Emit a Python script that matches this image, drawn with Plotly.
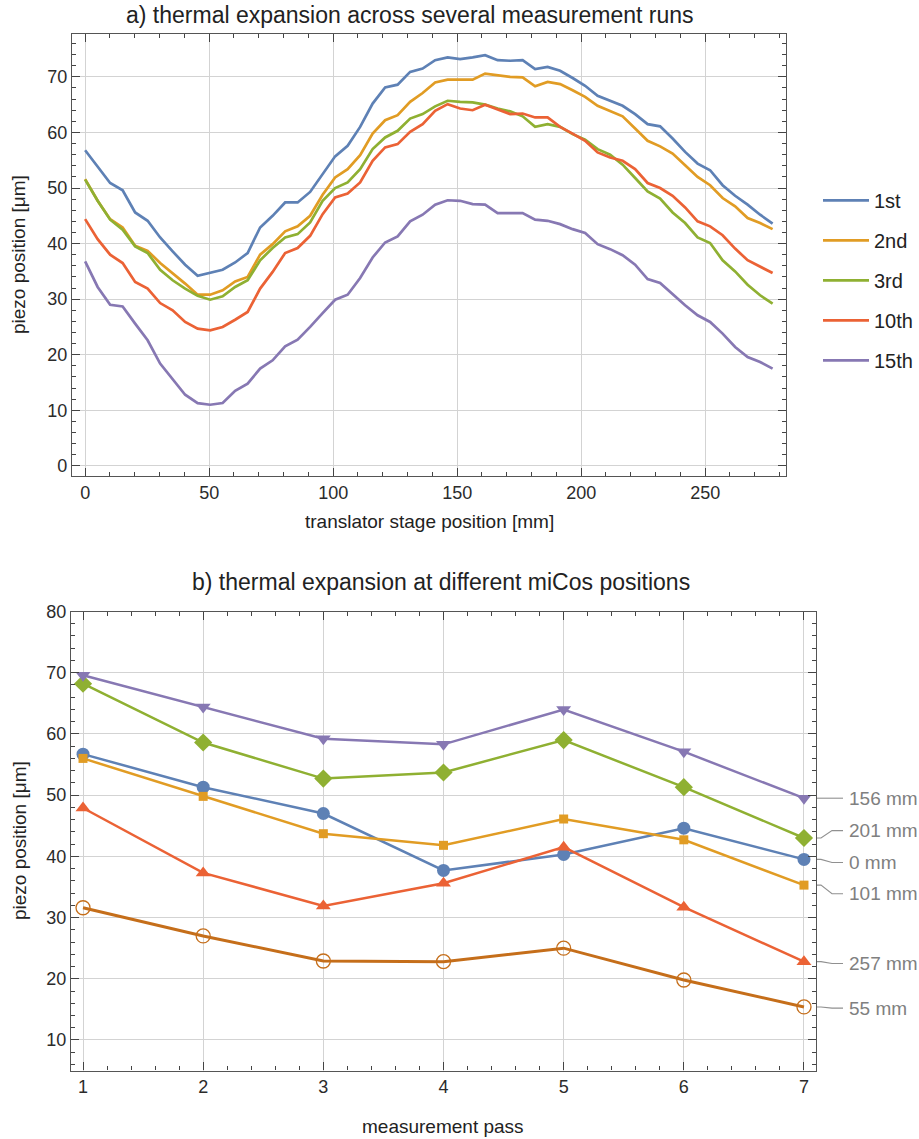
import plotly.graph_objects as go

# ---------------- data: panel a ----------------
stage_mm = [0, 5.04, 10.08, 15.12, 20.16, 25.2, 30.24, 35.28, 40.32, 45.36, 50.4, 55.44,
            60.48, 65.52, 70.56, 75.6, 80.64, 85.68, 90.72, 95.76, 100.8, 105.84, 110.88,
            115.92, 120.96, 126.0, 131.04, 136.08, 141.12, 146.16, 151.2, 156.24, 161.28,
            166.32, 171.36, 176.4, 181.44, 186.48, 191.52, 196.56, 201.6, 206.64, 211.68,
            216.72, 221.76, 226.8, 231.84, 236.88, 241.92, 246.96, 252.0, 257.04, 262.08,
            267.12, 272.16, 277.2]

run_names = ["1st", "2nd", "3rd", "10th", "15th"]

run_1st = [56.8, 53.8, 50.9, 49.6, 45.6, 44.1, 41.1, 38.6, 36.2, 34.2, 34.7, 35.3, 36.6, 38.3,
           42.9, 45.0, 47.4, 47.4, 49.3, 52.5, 55.7, 57.6, 61.0, 65.2, 68.1, 68.6, 70.9, 71.5,
           73.0, 73.5, 73.2, 73.5, 73.9, 73.0, 72.9, 73.0, 71.4, 71.8, 71.1, 69.8, 68.4, 66.6,
           65.7, 64.8, 63.3, 61.5, 61.1, 58.9, 56.5, 54.4, 53.2, 50.5, 48.6, 47.0, 45.2, 43.6]
run_2nd = [51.6, 47.7, 44.4, 42.9, 39.6, 38.7, 36.5, 34.7, 32.8, 30.8, 30.8, 31.6, 33.2, 34.0,
           38.0, 39.9, 42.2, 43.1, 45.0, 48.8, 51.9, 53.4, 55.9, 59.8, 62.2, 63.1, 65.5, 67.1,
           69.0, 69.5, 69.5, 69.5, 70.6, 70.3, 70.0, 69.9, 68.3, 69.1, 68.7, 67.6, 66.4, 64.8,
           63.8, 62.9, 60.7, 58.5, 57.5, 56.2, 54.1, 52.0, 50.5, 48.2, 46.7, 44.6, 43.7, 42.6]
run_3rd = [51.5, 47.7, 44.3, 42.5, 39.5, 38.3, 35.3, 33.4, 31.9, 30.6, 29.9, 30.5, 32.2, 33.4,
           37.0, 39.2, 41.1, 41.7, 43.8, 47.7, 50.0, 51.0, 53.4, 57.0, 59.1, 60.3, 62.5, 63.3,
           64.7, 65.7, 65.5, 65.4, 65.0, 64.3, 63.8, 62.9, 61.0, 61.5, 61.0, 59.7, 58.7, 57.0,
           56.0, 54.2, 51.8, 49.4, 48.1, 45.6, 43.7, 41.1, 40.1, 37.0, 35.0, 32.6, 30.7, 29.2]
run_10th = [44.4, 40.8, 38.0, 36.5, 33.1, 31.9, 29.3, 28.0, 25.9, 24.7, 24.4, 25.0, 26.3, 27.7,
            31.9, 34.9, 38.3, 39.2, 41.4, 45.3, 48.3, 49.0, 51.0, 54.9, 57.3, 57.9, 60.1, 61.5,
            63.9, 65.1, 64.3, 64.0, 65.0, 64.2, 63.3, 63.4, 62.7, 62.7, 61.0, 59.8, 58.5, 56.4,
            55.5, 54.9, 53.4, 50.9, 50.0, 48.6, 46.5, 44.0, 43.1, 41.5, 39.1, 37.0, 35.9, 34.7]
run_15th = [36.8, 32.2, 29.0, 28.7, 25.6, 22.6, 18.4, 15.5, 12.8, 11.3, 11.0, 11.3, 13.5, 14.8,
            17.5, 19.0, 21.5, 22.7, 25.0, 27.5, 29.9, 30.8, 33.8, 37.5, 40.2, 41.3, 44.0, 45.2,
            47.0, 47.8, 47.7, 47.1, 47.0, 45.5, 45.5, 45.5, 44.3, 44.1, 43.5, 42.6, 41.9, 39.9,
            39.0, 37.9, 36.2, 33.6, 32.9, 30.9, 28.9, 27.1, 25.9, 23.8, 21.4, 19.6, 18.7, 17.5]

# ---------------- data: panel b ----------------
passes = [1, 2, 3, 4, 5, 6, 7]
pos_names = ["0 mm", "101 mm", "201 mm", "257 mm", "156 mm", "55 mm"]
pos_0 = [56.7, 51.3, 47.0, 37.7, 40.3, 44.6, 39.5]
pos_101 = [56.0, 49.8, 43.7, 41.8, 46.1, 42.7, 35.3]
pos_201 = [68.2, 58.6, 52.7, 53.7, 59.0, 51.3, 43.0]
pos_257 = [47.9, 37.3, 31.9, 35.6, 41.5, 31.7, 22.8]
pos_156 = [69.6, 64.4, 59.2, 58.3, 64.0, 57.1, 49.5]
pos_55 = [31.6, 27.0, 22.9, 22.8, 25.0, 19.8, 15.4]
label_y = [39.0, 33.9, 44.2, 22.5, 49.5, 15.2]   # where the end labels sit

# ---------------- styling ----------------
COLORS = ["#5E81B5", "#E19C24", "#8FB032", "#EB6235", "#8778B3", "#C56E1A"]
FONT = "Liberation Sans, Arial, sans-serif"
W, H = 919, 1139

fig = go.Figure()

runs = [run_1st, run_2nd, run_3rd, run_10th, run_15th]
for k, (name, ys) in enumerate(zip(run_names, runs)):
    fig.add_trace(go.Scatter(x=stage_mm, y=ys, mode="lines", name=name,
                             line=dict(color=COLORS[k], width=2.7),
                             legendgroup=name, xaxis="x", yaxis="y"))

series_b = [pos_0, pos_101, pos_201, pos_257, pos_156, pos_55]
symbols = ["circle", "square", "diamond", "triangle-up", "triangle-down", "circle-open"]
msizes = [13, 9, 14, 13, 13, 14]
for k, ys in enumerate(series_b):
    mk = dict(symbol=symbols[k], size=msizes[k], color=COLORS[k])
    if symbols[k] == "circle-open":
        mk["line"] = dict(width=1.3, color=COLORS[k])
    fig.add_trace(go.Scatter(x=passes, y=ys, mode="lines+markers", name=pos_names[k],
                             line=dict(color=COLORS[k], width=3.0 if k == 5 else 2.5),
                             marker=mk, showlegend=False, cliponaxis=False,
                             xaxis="x2", yaxis="y2"))

# pixel frames (target pixel positions)
ax_a = dict(l=72, r=786, t=33, b=475)
ax_b = dict(l=71, r=816, t=610.7, b=1070)

# the rendered page shows a small vertical offset/compression; compensate for it
Y_OFF, Y_SCALE = 8.9, 0.9917

def px(xp):
    return xp / W

def py(yp):
    return 1 - ((yp - Y_OFF) / Y_SCALE) / H

axis_common = dict(
    showline=True, linecolor="#555555", linewidth=1.2, mirror="allticks",
    ticks="inside", ticklen=8, tickwidth=1.1, tickcolor="#444444",
    showgrid=True, gridcolor="#d3d3d3", gridwidth=1.2, zeroline=False,
    tickfont=dict(family=FONT, size=18, color="#2b2b2b"),
)
minor_common = dict(ticks="inside", ticklen=4, tickwidth=1, tickcolor="#444444", showgrid=False)

fig.update_layout(
    width=W, height=H, paper_bgcolor="white", plot_bgcolor="white",
    margin=dict(l=0, r=0, t=0, b=0),
    font=dict(family=FONT, color="#222222"),
    xaxis=dict(domain=[px(ax_a["l"]), px(ax_a["r"])], range=[-5.3, 282.6],
               tick0=0, dtick=50, anchor="y", minor=dict(dtick=10, **minor_common), **axis_common),
    yaxis=dict(domain=[py(ax_a["b"]), py(ax_a["t"])], range=[-1.8, 77.7],
               tick0=0, dtick=10, anchor="x", minor=dict(dtick=2, **minor_common), **axis_common),
    xaxis2=dict(domain=[px(ax_b["l"]), px(ax_b["r"])], range=[0.9, 7.1],
                tick0=1, dtick=1, anchor="y2", minor=dict(dtick=0.2, **minor_common), **axis_common),
    yaxis2=dict(domain=[py(ax_b["b"]), py(ax_b["t"])], range=[5, 80],
                tick0=0, dtick=10, anchor="x2", minor=dict(dtick=2, **minor_common), **axis_common),
    legend=dict(x=px(818), y=py(279.5), xanchor="left", yanchor="middle",
                font=dict(family=FONT, size=20, color="#222222"),
                tracegroupgap=11, bgcolor="rgba(0,0,0,0)", itemwidth=46),
    showlegend=True,
)

ann = []
ann.append(dict(text="a) thermal expansion across several measurement runs", xref="paper", yref="paper",
                x=px(410), y=py(14), xanchor="center", yanchor="middle", showarrow=False,
                font=dict(family=FONT, size=23, color="#222222")))
ann.append(dict(text="b) thermal expansion at different miCos positions", xref="paper", yref="paper",
                x=px(441), y=py(581), xanchor="center", yanchor="middle", showarrow=False,
                font=dict(family=FONT, size=23, color="#222222")))
ann.append(dict(text="translator stage position [mm]", xref="paper", yref="paper",
                x=px(429), y=py(521), xanchor="center", yanchor="middle", showarrow=False,
                font=dict(family=FONT, size=19, color="#222222")))
ann.append(dict(text="measurement pass", xref="paper", yref="paper",
                x=px(443), y=py(1126), xanchor="center", yanchor="middle", showarrow=False,
                font=dict(family=FONT, size=19, color="#222222")))
for yc in [(ax_a["t"] + ax_a["b"]) / 2, (ax_b["t"] + ax_b["b"]) / 2]:
    ann.append(dict(text="piezo position [μm]", xref="paper", yref="paper",
                    x=px(19), y=py(yc), xanchor="center", yanchor="middle", textangle=-90,
                    showarrow=False, font=dict(family=FONT, size=19, color="#222222")))

shapes = []
x_frame = px(ax_b["r"] + 1)
for k, ys in enumerate(series_b):
    y_end = ys[-1]
    y_lab = label_y[k]
    ann.append(dict(text=pos_names[k], xref="paper", yref="y2", x=px(847), y=y_lab,
                    xanchor="left", yanchor="middle", showarrow=False,
                    font=dict(family=FONT, size=19, color="#808080")))
    path = (f"M {x_frame},{y_end} L {px(821)},{y_end} L {px(832)},{y_lab} L {px(843)},{y_lab}")
    shapes.append(dict(type="path", xref="paper", yref="y2", path=path,
                       line=dict(color="#909090", width=1.1)))

fig.update_layout(annotations=ann, shapes=shapes)
fig.write_html("out.html")
